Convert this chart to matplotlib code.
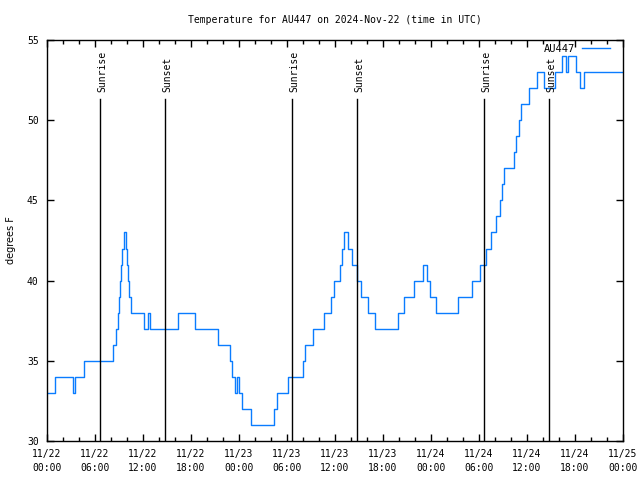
import matplotlib
matplotlib.use("Agg")
import matplotlib.pyplot as plt
from matplotlib.ticker import MultipleLocator

# hours since 2024-11-22 00:00 UTC, temperature (degrees F) - step changes
hours = [0.0, 1.0, 3.25, 3.5, 4.6, 8.25, 8.6, 8.9, 9.0, 9.1, 9.25, 9.4, 9.6,
         9.9, 10.0, 10.1, 10.25, 10.5, 12.1, 12.6, 12.9, 16.4, 18.5, 21.4,
         22.9, 23.1, 23.5, 23.75, 24.0, 24.4, 25.5, 28.4, 28.75, 30.1, 32.0,
         32.25, 33.25, 34.6, 35.5, 35.9, 36.6, 36.9, 37.1, 37.6, 38.1, 38.75,
         39.25, 40.1, 41.0, 43.9, 44.6, 45.9, 47.0, 47.5, 47.9, 48.6, 51.4,
         53.1, 54.1, 54.9, 55.5, 56.1, 56.6, 56.9, 57.1, 58.4, 58.6, 59.0,
         59.25, 60.25, 61.25, 62.1, 63.5, 64.4, 64.9, 65.1, 66.1, 66.6, 67.1,
         72.0]
temps = [33, 34, 33, 34, 35, 36, 37, 38, 39, 40, 41, 42, 43,
         42, 41, 40, 39, 38, 37, 38, 37, 38, 37, 36,
         35, 34, 33, 34, 33, 32, 31, 32, 33, 34, 35,
         36, 37, 38, 39, 40, 41, 42, 43, 42, 41, 40,
         39, 38, 37, 38, 39, 40, 41, 40, 39, 38, 39,
         40, 41, 42, 43, 44, 45, 46, 47, 48, 49, 50,
         51, 52, 53, 52, 53, 54, 53, 54, 53, 52, 53,
         53]

sun_hours = [6.66, 14.79, 30.66, 38.79, 54.66, 62.79]
sun_labels = ["Sunrise", "Sunset", "Sunrise", "Sunset", "Sunrise", "Sunset"]

xtick_hours = [0, 6, 12, 18, 24, 30, 36, 42, 48, 54, 60, 66, 72]
xtick_labels = ["11/22\n00:00", "11/22\n06:00", "11/22\n12:00", "11/22\n18:00",
                "11/23\n00:00", "11/23\n06:00", "11/23\n12:00", "11/23\n18:00",
                "11/24\n00:00", "11/24\n06:00", "11/24\n12:00", "11/24\n18:00",
                "11/25\n00:00"]

plt.rcParams['font.family'] = ['DejaVu Sans Mono']
plt.rcParams['font.size'] = 7

fig = plt.figure(figsize=(6.4, 4.8), dpi=100)
ax = fig.add_axes([47/640, 1-441/480, 576/640, 401/480])

ax.plot(hours, temps, drawstyle='steps-post', color='#0a7cff', lw=1.0,
        label='AU447')

for h, lab in zip(sun_hours, sun_labels):
    ax.plot([h, h], [30, 51.3], color='black', lw=1.0)
    ax.text(h + 0.25, 51.75, lab, rotation=90, ha='center', va='bottom',
            fontsize=7)

ax.set_xlim(0, 72)
ax.set_ylim(30, 55)
ax.set_xticks(xtick_hours)
ax.set_xticklabels(xtick_labels, linespacing=1.45)
ax.xaxis.set_minor_locator(MultipleLocator(2))
ax.yaxis.set_major_locator(MultipleLocator(5))
ax.tick_params(which='both', direction='in', top=True, right=True, width=1)
ax.tick_params(which='major', length=5)
ax.tick_params(which='minor', length=3)
ax.tick_params(axis='x', pad=6)
ax.tick_params(axis='y', pad=6)
for s in ax.spines.values():
    s.set_linewidth(1.0)

ax.set_ylabel('degrees F', fontfamily='DejaVu Sans', fontsize=7)
ax.yaxis.set_label_coords(-31/576, 0.5)
ax.set_title('Temperature for AU447 on 2024-Nov-22 (time in UTC)', fontsize=7,
             pad=12)

leg = ax.legend(loc='upper right', frameon=False, markerfirst=False,
                handlelength=2.7, borderaxespad=0.0, handletextpad=0.65,
                fontsize=7.5, borderpad=0.0,
                bbox_to_anchor=(1 - 13/576, 1 - 4/401))

fig.savefig('out.png', dpi=100)
